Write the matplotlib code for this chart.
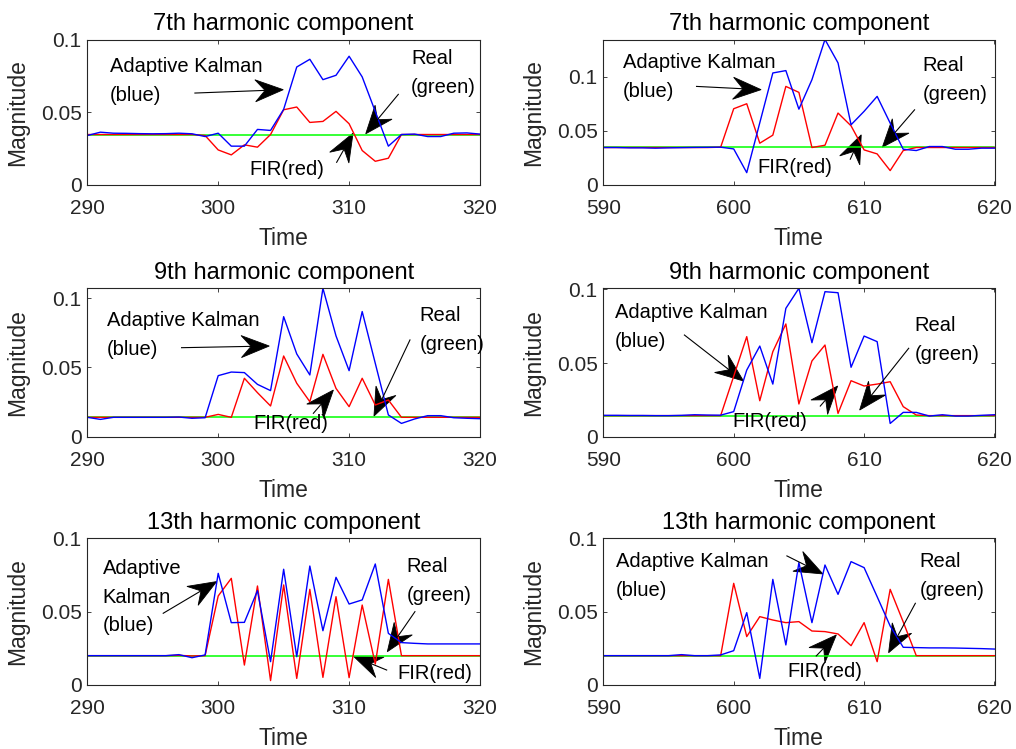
import numpy as np
import matplotlib
matplotlib.use("Agg")
import matplotlib.pyplot as plt
from matplotlib.patches import Polygon
from matplotlib.lines import Line2D
from matplotlib.ticker import FuncFormatter

plt.rcParams['font.family'] = ['Liberation Sans', 'DejaVu Sans']

# ---------------- data ----------------
t_left = np.arange(290, 321)
t_right = np.arange(590, 621)

real_7th = 0.0347
real_9th = 0.0141
real_13th = 0.0200

kalman_7th_left = [0.0340, 0.0363, 0.0356, 0.0355, 0.0353, 0.0352, 0.0353, 0.0356, 0.0352, 0.0333,
                   0.0356, 0.0267, 0.0267, 0.0382, 0.0375, 0.0520, 0.0811, 0.0864, 0.0724, 0.0754,
                   0.0885, 0.0743, 0.0505, 0.0267, 0.0347, 0.0350, 0.0333, 0.0333, 0.0356, 0.0358,
                   0.0350]
fir_7th_left = [0.0347, 0.0347, 0.0347, 0.0347, 0.0347, 0.0347, 0.0347, 0.0347, 0.0347, 0.0340,
                0.0241, 0.0207, 0.0276, 0.0260, 0.0347, 0.0517, 0.0536, 0.0430, 0.0437, 0.0506,
                0.0421, 0.0237, 0.0163, 0.0184, 0.0347, 0.0347, 0.0347, 0.0347, 0.0347, 0.0347,
                0.0347]

kalman_7th_right = [0.0346, 0.0346, 0.0343, 0.0343, 0.0340, 0.0343, 0.0345, 0.0347, 0.0348, 0.0349,
                    0.0333, 0.0114, 0.0574, 0.1034, 0.1056, 0.0700, 0.0972, 0.1343, 0.1127, 0.0556,
                    0.0680, 0.0818, 0.0571, 0.0330, 0.0318, 0.0355, 0.0355, 0.0330, 0.0330, 0.0340,
                    0.0340]
fir_7th_right = [0.0346, 0.0346, 0.0346, 0.0346, 0.0346, 0.0346, 0.0346, 0.0346, 0.0346, 0.0349,
                 0.0704, 0.0750, 0.0386, 0.0460, 0.0910, 0.0855, 0.0346, 0.0367, 0.0664, 0.0546,
                 0.0324, 0.0287, 0.0133, 0.0318, 0.0346, 0.0346, 0.0346, 0.0346, 0.0346, 0.0346,
                 0.0346]

kalman_9th_left = [0.0140, 0.0125, 0.0140, 0.0140, 0.0140, 0.0140, 0.0140, 0.0142, 0.0133, 0.0137,
                   0.0441, 0.0467, 0.0463, 0.0378, 0.0333, 0.0867, 0.0598, 0.0446, 0.1072, 0.0728,
                   0.0477, 0.0904, 0.0530, 0.0157, 0.0096, 0.0128, 0.0152, 0.0152, 0.0137, 0.0133,
                   0.0130]
fir_9th_left = [0.0140, 0.0140, 0.0140, 0.0140, 0.0140, 0.0140, 0.0140, 0.0140, 0.0140, 0.0140,
                0.0161, 0.0140, 0.0422, 0.0318, 0.0222, 0.0583, 0.0386, 0.0253, 0.0595, 0.0349,
                0.0217, 0.0422, 0.0229, 0.0265, 0.0140, 0.0140, 0.0140, 0.0140, 0.0140, 0.0140,
                0.0140]

kalman_9th_right = [0.0145, 0.0145, 0.0144, 0.0144, 0.0143, 0.0143, 0.0145, 0.0149, 0.0147, 0.0146,
                    0.0170, 0.0452, 0.0615, 0.0357, 0.0871, 0.1007, 0.0638, 0.0984, 0.0977, 0.0471,
                    0.0683, 0.0645, 0.0090, 0.0165, 0.0165, 0.0140, 0.0149, 0.0140, 0.0140, 0.0145,
                    0.0149]
fir_9th_right = [0.0143, 0.0143, 0.0143, 0.0143, 0.0143, 0.0143, 0.0143, 0.0143, 0.0143, 0.0143,
                 0.0410, 0.0679, 0.0244, 0.0577, 0.0765, 0.0222, 0.0514, 0.0622, 0.0158, 0.0380,
                 0.0344, 0.0357, 0.0373, 0.0204, 0.0147, 0.0143, 0.0143, 0.0143, 0.0143, 0.0143,
                 0.0143]

kalman_13th_left = [0.0200, 0.0200, 0.0200, 0.0200, 0.0200, 0.0200, 0.0200, 0.0207, 0.0186, 0.0205,
                    0.0761, 0.0425, 0.0427, 0.0643, 0.0159, 0.0789, 0.0193, 0.0811, 0.0370, 0.0734,
                    0.0552, 0.0580, 0.0825, 0.0352, 0.0289, 0.0284, 0.0280, 0.0280, 0.0280, 0.0280,
                    0.0280]
fir_13th_left = [0.0200, 0.0200, 0.0200, 0.0200, 0.0200, 0.0200, 0.0200, 0.0202, 0.0198, 0.0200,
                 0.0607, 0.0727, 0.0136, 0.0675, 0.0030, 0.0682, 0.0045, 0.0652, 0.0052, 0.0602,
                 0.0050, 0.0545, 0.0143, 0.0720, 0.0200, 0.0200, 0.0200, 0.0200, 0.0200, 0.0200,
                 0.0200]

kalman_13th_right = [0.0200, 0.0200, 0.0200, 0.0200, 0.0200, 0.0200, 0.0207, 0.0200, 0.0200, 0.0205,
                     0.0234, 0.0493, 0.0045, 0.0720, 0.0273, 0.0834, 0.0425, 0.0818, 0.0618, 0.0841,
                     0.0800, 0.0602, 0.0402, 0.0257, 0.0255, 0.0253, 0.0253, 0.0252, 0.0250, 0.0248,
                     0.0245]
fir_13th_right = [0.0200, 0.0200, 0.0200, 0.0200, 0.0200, 0.0200, 0.0200, 0.0200, 0.0200, 0.0200,
                  0.0693, 0.0330, 0.0466, 0.0443, 0.0425, 0.0432, 0.0368, 0.0364, 0.0348, 0.0268,
                  0.0425, 0.0159, 0.0652, 0.0430, 0.0200, 0.0200, 0.0200, 0.0200, 0.0200, 0.0200,
                  0.0200]

titles = ['7th harmonic component', '7th harmonic component',
          '9th harmonic component', '9th harmonic component',
          '13th harmonic component', '13th harmonic component']

xticks_left = [290, 300, 310, 320]
xticks_right = [590, 600, 610, 620]
yticks = [0, 0.05, 0.1]

kalman_lines = ['Adaptive Kalman', '(blue)']
kalman_lines_narrow = ['Adaptive', 'Kalman', '(blue)']
real_lines = ['Real', '(green)']
fir_lines = ['FIR(red)']

# per panel: time, kalman, fir, real, y upper limit (None -> peak of Kalman curve)
panels = [
    (t_left, kalman_7th_left, fir_7th_left, real_7th, 0.1),
    (t_right, kalman_7th_right, fir_7th_right, real_7th, None),
    (t_left, kalman_9th_left, fir_9th_left, real_9th, None),
    (t_right, kalman_9th_right, fir_9th_right, real_9th, None),
    (t_left, kalman_13th_left, fir_13th_left, real_13th, 0.1),
    (t_right, kalman_13th_right, fir_13th_right, real_13th, 0.1),
]

# annotation placement: (text lines, text anchor, arrow tail, arrow tip)
notes = [
    [(kalman_lines, (291.73, 0.0811), (298.22, 0.0632), (304.97, 0.0655)),
     (real_lines, (314.73, 0.0869), (313.76, 0.0623), (311.27, 0.0352)),
     (fir_lines, (302.38, 0.0106), (309.05, 0.0156), (310.30, 0.0356))],
    [(kalman_lines, (591.48, 0.1127), (597.15, 0.0910), (602.10, 0.0880)),
     (real_lines, (614.50, 0.1100), (613.87, 0.0694), (611.40, 0.0349)),
     (fir_lines, (601.80, 0.0164), (608.94, 0.0238), (609.78, 0.0463))],
    [(kalman_lines, (291.48, 0.0836), (297.20, 0.0643), (303.90, 0.0655)),
     (real_lines, (315.36, 0.0872), (314.65, 0.0699), (311.90, 0.0149)),
     (fir_lines, (302.70, 0.0096), (307.27, 0.0169), (308.80, 0.0337))],
    [(kalman_lines, (590.90, 0.0842), (596.22, 0.0690), (600.75, 0.0378)),
     (real_lines, (613.85, 0.0753), (613.42, 0.0600), (609.66, 0.0181)),
     (fir_lines, (599.90, 0.0102), (606.64, 0.0208), (607.97, 0.0344))],
    [(kalman_lines_narrow, (291.17, 0.0795), (295.80, 0.0489), (299.88, 0.0705)),
     (real_lines, (314.40, 0.0807), (315.03, 0.0500), (312.92, 0.0227)),
     (fir_lines, (313.68, 0.0080), (312.87, 0.0102), (310.37, 0.0193))],
    [(kalman_lines, (590.97, 0.0841), (604.08, 0.0880), (606.84, 0.0757)),
     (real_lines, (614.26, 0.0841), (613.93, 0.0557), (611.88, 0.0220)),
     (fir_lines, (604.13, 0.0091), (606.33, 0.0198), (607.87, 0.0341))],
]

# ---------------- layout ----------------
W, H = 1016, 749
fig = plt.figure(figsize=(W / 100, H / 100), dpi=100)

col_px = [(87.3, 480.0), (603.3, 994.5)]
row_px = [(39.5, 185.0), (288.3, 436.7), (538.3, 685.0)]

axis_grey = '#262626'


def add_text_lines(ax, lines, anchor, step_pt=20.7, size=14.5):
    for k, s in enumerate(lines):
        ax.annotate(s, xy=anchor, xytext=(0, -k * step_pt), textcoords='offset points',
                    ha='left', va='center', fontsize=size, color='black')


def add_arrow(ax, tail, tip, head_len=28.0, head_w=22.0, notch=0.35):
    """Thin shaft with a large notched (swept-back) filled head, sized in pixels."""
    p0 = ax.transData.transform(tail)
    p1 = ax.transData.transform(tip)
    d = p1 - p0
    u = d / np.hypot(d[0], d[1])
    n = np.array([-u[1], u[0]])
    back = p1 - u * head_len
    inner = p1 - u * head_len * (1 - notch)
    inv = ax.transData.inverted()
    shaft = inv.transform(np.array([p0, inner]))
    ax.add_line(Line2D(shaft[:, 0], shaft[:, 1], color='black', lw=0.8))
    head = inv.transform(np.array([p1, back + n * head_w / 2, inner, back - n * head_w / 2]))
    ax.add_patch(Polygon(head, closed=True, facecolor='black', edgecolor='black', lw=0.6))


fmt = FuncFormatter(lambda v, p: f'{v:g}')

for i, (t, kal, fir, real, ytop) in enumerate(panels):
    r, c = divmod(i, 2)
    x0, x1 = col_px[c]
    y0, y1 = row_px[r]
    wpx, hpx = x1 - x0, y1 - y0
    ax = fig.add_axes([x0 / W, 1 - y1 / H, wpx / W, hpx / H])

    ax.plot(t, [real] * len(t), color=(0, 1, 0), lw=1.1)
    ax.plot(t, fir, color=(1, 0, 0), lw=1.0)
    ax.plot(t, kal, color=(0, 0, 1), lw=1.0)

    ax.set_xlim(t[0], t[-1])
    ax.set_ylim(0, ytop if ytop is not None else max(kal))
    ax.set_xticks(xticks_left if c == 0 else xticks_right)
    ax.set_yticks(yticks)
    ax.yaxis.set_major_formatter(fmt)

    ax.tick_params(direction='in', length=3, width=0.6, top=True, right=True,
                   labelsize=15, colors=axis_grey)
    ax.tick_params(axis='x', pad=10)
    ax.tick_params(axis='y', pad=4)
    for sp in ax.spines.values():
        sp.set_color(axis_grey)
        sp.set_linewidth(0.8)

    ax.set_title(titles[i], fontsize=17, pad=6.5, color='black')
    ax.set_xlabel('Time', fontsize=16.5, color=axis_grey)
    ax.xaxis.label.set_va('baseline')
    ax.xaxis.set_label_coords(0.5, -60.0 / hpx)
    ax.set_ylabel('Magnitude', fontsize=16.5, color=axis_grey)
    ax.yaxis.set_label_coords(-58.0 / wpx, 0.5)

    for lines, anchor, tail, tip in notes[i]:
        add_text_lines(ax, lines, anchor)
        add_arrow(ax, tail, tip)

fig.savefig('out.png', dpi=100)
